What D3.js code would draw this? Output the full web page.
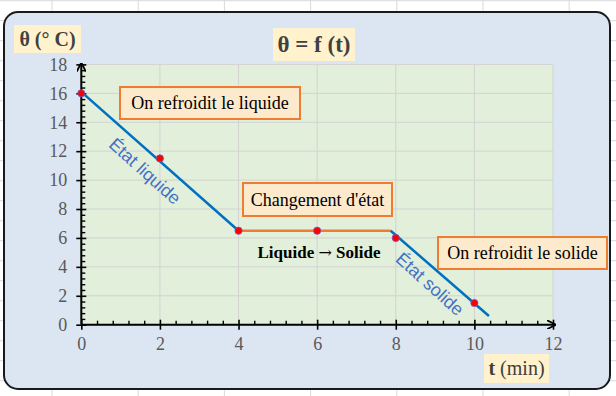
<!DOCTYPE html>
<html>
<head>
<meta charset="utf-8">
<script src="https://cdnjs.cloudflare.com/ajax/libs/d3/7.8.5/d3.min.js"></script>
<style>
  body { margin: 0; background: #fff; }
  svg { display: block; }
  .tick text { font-family: "Liberation Serif", serif; font-size: 18px; fill: #595959; }
</style>
</head>
<body>
<div id="chart"></div>
<script>
// data
var times = [0, 2, 4, 6, 8, 10];
var temps = [16, 11.5, 6.5, 6.5, 6, 1.5];
var liquidLine = [[0, 16.1], [4, 6.5]];
var plateauLine = [[4, 6.5], [7.87, 6.5]];
var solidLine = [[7.87, 6.5], [10.37, 0.6]];
var xTicks = [0, 2, 4, 6, 8, 10, 12];
var yTicks = [0, 2, 4, 6, 8, 10, 12, 14, 16, 18];

var svgWidth = 616;
var svgHeight = 396;

var margin = { top: 64.4, left: 81.3 };
var width = 553 - margin.left;
var height = 324.7 - margin.top;

var svg = d3.select("#chart")
  .append("svg")
  .attr("width", svgWidth)
  .attr("height", svgHeight);

// spreadsheet cells behind the chart
var cols = d3.range(52, 616, 86.2);
svg.selectAll(".vcell").data(cols).enter().append("line")
  .attr("x1", d => d).attr("x2", d => d)
  .attr("y1", 0).attr("y2", svgHeight)
  .attr("stroke", "#d9d9d9");
svg.selectAll(".hcell").data(d3.range(0.7, 396, 20)).enter().append("line")
  .attr("x1", 0).attr("x2", svgWidth)
  .attr("y1", d => d).attr("y2", d => d)
  .attr("stroke", "#d9d9d9");

// chart frame
svg.append("rect")
  .attr("x", 4).attr("y", 12)
  .attr("width", 606).attr("height", 377)
  .attr("rx", 14)
  .attr("fill", "#dce6f2")
  .attr("stroke", "#1a1a1a")
  .attr("stroke-width", 2);

var defs = svg.append("defs");
defs.append("marker")
  .attr("id", "arrow")
  .attr("viewBox", "0 0 10 10")
  .attr("refX", 9).attr("refY", 5)
  .attr("markerWidth", 4.5).attr("markerHeight", 4.5)
  .attr("orient", "auto")
  .append("path")
  .attr("d", "M0,0 L10,5 L0,10")
  .attr("fill", "none")
  .attr("stroke", "#000")
  .attr("stroke-width", 2);

var chartGroup = svg.append("g")
  .attr("transform", `translate(${margin.left}, ${margin.top})`);

var xScale = d3.scaleLinear().domain([0, 12]).range([0, width]);
var yScale = d3.scaleLinear().domain([0, 18]).range([height, 0]);

// plot area
chartGroup.append("rect")
  .attr("width", width).attr("height", height)
  .attr("fill", "#e2efda");

chartGroup.selectAll(".vgrid").data(xTicks.slice(1)).enter().append("line")
  .attr("x1", d => xScale(d)).attr("x2", d => xScale(d))
  .attr("y1", 0).attr("y2", height)
  .attr("stroke", "#d3d3d3");
chartGroup.selectAll(".hgrid").data(yTicks.slice(1)).enter().append("line")
  .attr("x1", 0).attr("x2", width)
  .attr("y1", d => yScale(d)).attr("y2", d => yScale(d))
  .attr("stroke", "#d3d3d3");

// axes
var minorX = d3.range(0.4, 12, 0.4).filter(d => Math.abs(d / 2 - Math.round(d / 2)) > 0.01);
var minorY = d3.range(0.4, 18, 0.4).filter(d => Math.abs(d / 2 - Math.round(d / 2)) > 0.01);

var xAxis = chartGroup.append("g")
  .attr("transform", `translate(0, ${height})`)
  .call(d3.axisBottom(xScale).tickValues(xTicks).tickSize(5).tickPadding(8));
xAxis.select(".domain").remove();
xAxis.selectAll(".tick line").attr("y1", -5).attr("stroke-width", 1.6);

var xMinor = chartGroup.append("g")
  .attr("transform", `translate(0, ${height})`)
  .call(d3.axisTop(xScale).tickValues(minorX).tickSize(4).tickFormat(""));
xMinor.select(".domain").remove();
xMinor.selectAll(".tick line").attr("stroke-width", 1.4);

var yAxis = chartGroup.append("g")
  .call(d3.axisLeft(yScale).tickValues(yTicks).tickSize(5).tickPadding(9));
yAxis.select(".domain").remove();
yAxis.selectAll(".tick line").attr("x1", 5).attr("stroke-width", 1.6);

var yMinor = chartGroup.append("g")
  .call(d3.axisRight(yScale).tickValues(minorY).tickSize(4).tickFormat(""));
yMinor.select(".domain").remove();
yMinor.selectAll(".tick line").attr("stroke-width", 1.4);

chartGroup.append("line")
  .attr("x1", 0).attr("x2", width + 2)
  .attr("y1", height).attr("y2", height)
  .attr("stroke", "#000").attr("stroke-width", 2)
  .attr("marker-end", "url(#arrow)");
chartGroup.append("line")
  .attr("x1", 0).attr("x2", 0)
  .attr("y1", height).attr("y2", -1)
  .attr("stroke", "#000").attr("stroke-width", 2)
  .attr("marker-end", "url(#arrow)");

// lines
var line = d3.line().x(d => xScale(d[0])).y(d => yScale(d[1]));
chartGroup.append("path").datum(liquidLine)
  .attr("d", line).attr("fill", "none")
  .attr("stroke", "#0070c0").attr("stroke-width", 2.5);
chartGroup.append("path").datum(plateauLine)
  .attr("d", line).attr("fill", "none")
  .attr("stroke", "#ed7d31").attr("stroke-width", 2.5);
chartGroup.append("path").datum(solidLine)
  .attr("d", line).attr("fill", "none")
  .attr("stroke", "#0070c0").attr("stroke-width", 2.5);

// points
chartGroup.selectAll("circle")
  .data(times)
  .enter()
  .append("circle")
  .attr("cx", d => xScale(d))
  .attr("cy", (d, i) => yScale(temps[i]))
  .attr("r", 3.6)
  .attr("fill", "#ff0000")
  .attr("stroke", "#6a5acd")
  .attr("stroke-width", 0.8);

// rotated state labels
function stateLabel(txt, cx, cy, angle) {
  svg.append("text")
    .attr("transform", `translate(${cx}, ${cy}) rotate(${angle})`)
    .attr("text-anchor", "middle")
    .attr("dy", "0.35em")
    .attr("font-family", "Liberation Sans, sans-serif")
    .attr("font-size", 18)
    .attr("fill", "#4472c4")
    .text(txt);
}
stateLabel("État liquide", 145, 171, 42);
stateLabel("État solide", 430, 284, 42);

// annotation boxes
function noteBox(txt, x, y, w, h) {
  svg.append("rect")
    .attr("x", x).attr("y", y).attr("width", w).attr("height", h)
    .attr("fill", "#fde9cc")
    .attr("stroke", "#ed7d31")
    .attr("stroke-width", 2);
  svg.append("text")
    .attr("x", x + w / 2).attr("y", y + h / 2)
    .attr("dy", "0.35em")
    .attr("text-anchor", "middle")
    .attr("font-family", "Liberation Serif, serif")
    .attr("font-size", 18)
    .attr("fill", "#000")
    .text(txt);
}
noteBox("On refroidit le liquide", 120, 87, 180, 32);
noteBox("Changement d'état", 243, 183, 149, 33);
noteBox("On refroidit le solide", 438, 237, 169, 32);

var phase = svg.append("text")
  .attr("x", 319).attr("y", 258)
  .attr("text-anchor", "middle")
  .attr("font-family", "Liberation Serif, serif")
  .attr("font-size", 17)
  .attr("font-weight", "bold")
  .attr("fill", "#000");
phase.append("tspan").text("Liquide ");
phase.append("tspan")
  .attr("font-family", "DejaVu Serif, serif")
  .attr("font-weight", "normal")
  .attr("font-size", 16)
  .text("\u2192");
phase.append("tspan").text(" Solide");

// title and axis titles
svg.append("rect")
  .attr("x", 273).attr("y", 28).attr("width", 82).attr("height", 33)
  .attr("fill", "#fff2cc");
svg.append("text")
  .attr("x", 314).attr("y", 52)
  .attr("text-anchor", "middle")
  .attr("font-family", "Liberation Serif, serif")
  .attr("font-size", 23)
  .attr("font-weight", "bold")
  .attr("fill", "#404040")
  .text("θ = f (t)");

svg.append("rect")
  .attr("x", 14).attr("y", 25).attr("width", 67).attr("height", 28)
  .attr("fill", "#fff2cc");
svg.append("text")
  .attr("x", 47.5).attr("y", 46)
  .attr("text-anchor", "middle")
  .attr("font-family", "Liberation Serif, serif")
  .attr("font-size", 20)
  .attr("font-weight", "bold")
  .attr("fill", "#404040")
  .text("θ (° C)");

svg.append("rect")
  .attr("x", 484).attr("y", 354).attr("width", 65).attr("height", 29)
  .attr("fill", "#fff2cc");
var tLabel = svg.append("text")
  .attr("x", 516.5).attr("y", 375)
  .attr("text-anchor", "middle")
  .attr("font-family", "Liberation Serif, serif")
  .attr("font-size", 20)
  .attr("fill", "#404040");
tLabel.append("tspan").attr("font-weight", "bold").text("t");
tLabel.append("tspan").text(" (min)");
</script>
</body>
</html>
